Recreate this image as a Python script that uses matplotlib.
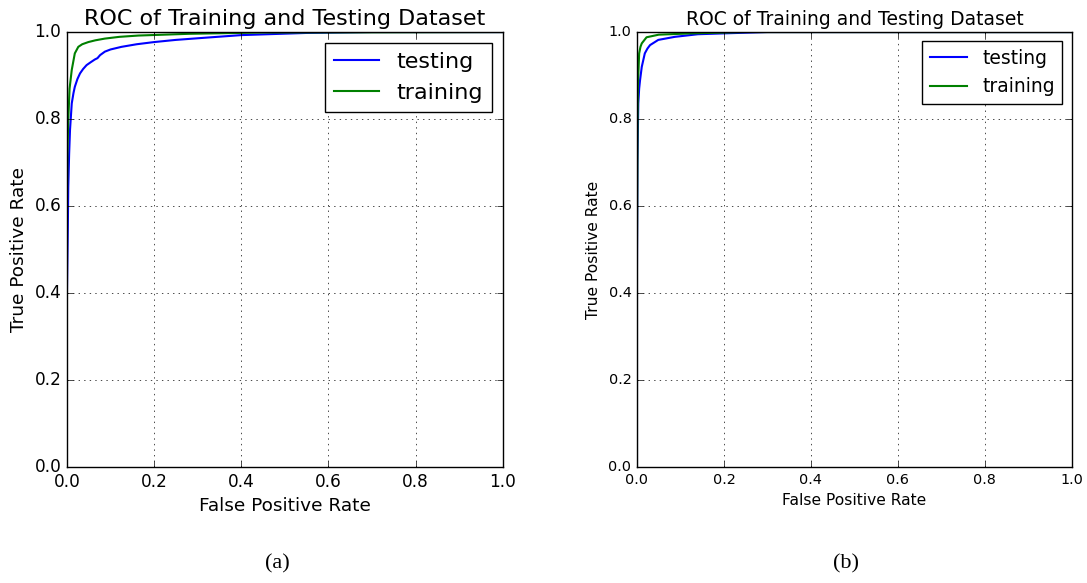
import matplotlib.pyplot as plt

plt.style.use('classic')

# ROC points, panel (a)
fpr_test_a = [0, 0, 0.002, 0.003, 0.005, 0.007, 0.011, 0.015, 0.018, 0.024, 0.030, 0.037, 0.045,
              0.055, 0.064, 0.070, 0.076, 0.087, 0.10, 0.125, 0.16, 0.20, 0.25, 0.317, 0.40,
              0.55, 0.70, 1.0]
tpr_test_a = [0, 0.40, 0.55, 0.644, 0.72, 0.775, 0.836, 0.860, 0.874, 0.892, 0.905, 0.915, 0.924,
              0.931, 0.937, 0.940, 0.947, 0.955, 0.960, 0.966, 0.972, 0.977, 0.982, 0.987, 0.993,
              0.998, 1.0, 1.0]
fpr_train_a = [0, 0, 0.001, 0.003, 0.006, 0.011, 0.018, 0.026, 0.035, 0.049, 0.065, 0.087, 0.12,
               0.164, 0.28, 0.45, 1.0]
tpr_train_a = [0, 0.62, 0.72, 0.798, 0.87, 0.913, 0.951, 0.966, 0.972, 0.977, 0.981, 0.985, 0.989,
               0.992, 0.996, 0.999, 1.0]

# ROC points, panel (b)
fpr_test_b = [0, 0, 0.001, 0.003, 0.005, 0.007, 0.011, 0.018, 0.024, 0.030, 0.049, 0.087, 0.14,
              0.2, 0.3, 1.0]
tpr_test_b = [0, 0.45, 0.70, 0.836, 0.870, 0.889, 0.920, 0.951, 0.962, 0.970, 0.982, 0.989, 0.995,
              0.997, 1.0, 1.0]
fpr_train_b = [0, 0, 0.001, 0.002, 0.005, 0.008, 0.011, 0.022, 0.05, 0.126, 0.25, 1.0]
tpr_train_b = [0, 0.50, 0.75, 0.874, 0.951, 0.966, 0.974, 0.988, 0.994, 0.997, 1.0, 1.0]

ticks = [0.0, 0.2, 0.4, 0.6, 0.8, 1.0]

fig = plt.figure(figsize=(10.87, 5.83), dpi=100, facecolor='white')


def draw_roc(ax, fpr_test, tpr_test, fpr_train, tpr_train, fs_title, fs_label, fs_tick, fs_leg):
    ax.plot(fpr_test, tpr_test, color='b', lw=1.5, label='testing')
    ax.plot(fpr_train, tpr_train, color='g', lw=1.5, label='training')
    ax.set_xlim(0, 1)
    ax.set_ylim(0, 1)
    ax.set_xticks(ticks)
    ax.set_yticks(ticks)
    ax.tick_params(labelsize=fs_tick)
    ax.grid(True, linestyle=':', color='black')
    ax.set_title('ROC of Training and Testing Dataset', fontsize=fs_title)
    ax.set_xlabel('False Positive Rate', fontsize=fs_label)
    ax.set_ylabel('True Positive Rate', fontsize=fs_label)
    ax.legend(loc='upper right', fontsize=fs_leg, handlelength=2.0, numpoints=1)


ax1 = fig.add_axes([0.0616, 0.199, 0.401, 0.746])
draw_roc(ax1, fpr_test_a, tpr_test_a, fpr_train_a, tpr_train_a, 16, 13.3, 12.2, 16)

ax2 = fig.add_axes([0.586, 0.199, 0.400, 0.746])
draw_roc(ax2, fpr_test_b, tpr_test_b, fpr_train_b, tpr_train_b, 13.5, 11.2, 10.4, 13.5)

# subfigure captions
fig.text(0.255, 0.025, '(a)', fontsize=16, family='Liberation Serif', ha='center')
fig.text(0.778, 0.025, '(b)', fontsize=16, family='Liberation Serif', ha='center')

fig.savefig('out.png', dpi=100, facecolor='white')
